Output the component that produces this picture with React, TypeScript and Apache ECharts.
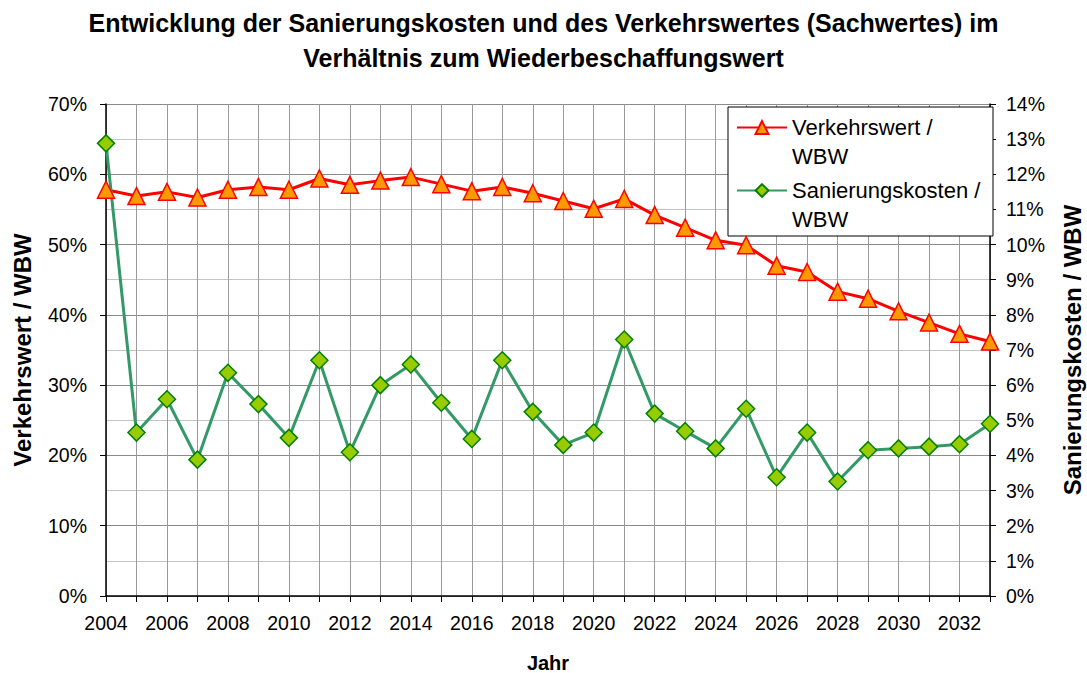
import React, { useEffect, useRef } from "react";
import * as echarts from "echarts";

const years = ["2004","2005","2006","2007","2008","2009","2010","2011","2012","2013","2014","2015","2016","2017","2018","2019","2020","2021","2022","2023","2024","2025","2026","2027","2028","2029","2030","2031","2032","2033"];
const verkehrswert = [57.8,56.9,57.5,56.7,57.8,58.2,57.8,59.4,58.5,59.1,59.6,58.6,57.6,58.2,57.3,56.2,55.1,56.5,54.2,52.4,50.6,49.9,47.0,46.1,43.3,42.3,40.5,38.9,37.3,36.2];
const sanierung = [12.88,4.65,5.6,3.88,6.35,5.46,4.5,6.71,4.09,6.0,6.59,5.5,4.47,6.71,5.24,4.3,4.65,7.3,5.19,4.69,4.2,5.33,3.38,4.65,3.26,4.15,4.2,4.25,4.32,4.9];
const leftTicks = { min: 0, max: 70, interval: 10 };
const rightTicks = { min: 0, max: 14, interval: 1 };
const names = { vw: "Verkehrswert /\nWBW", sk: "Sanierungskosten /\nWBW" };

const FONT = "'Liberation Sans', Arial, sans-serif";

export default function App() {
  const ref = useRef<HTMLDivElement>(null);
  useEffect(() => {
    document.body.style.margin = "0";
    const chart = echarts.init(ref.current!, null, { renderer: "svg" });
    chart.setOption({
      animation: false,
      backgroundColor: "#ffffff",
      textStyle: { fontFamily: FONT },
      title: {
        text: "Entwicklung der Sanierungskosten und des Verkehrswertes (Sachwertes) im\nVerhältnis zum Wiederbeschaffungswert",
        left: "center",
        top: 0,
        textStyle: { fontFamily: FONT, fontSize: 25, fontWeight: "bold", color: "#000", lineHeight: 35 },
      },
      graphic: [
        {
          type: "rect",
          z: 3,
          shape: { x: 728, y: 107, width: 265, height: 129 },
          style: { fill: "#fff", stroke: "#000", lineWidth: 1 },
        },
      ],
      legend: {
        orient: "vertical",
        left: 736,
        top: 84,
        z: 5,
        itemWidth: 50,
        itemHeight: 16,
        itemGap: -24,
        padding: 0,
        data: [names.vw, names.sk],
        formatter: (n: string) => "\n" + n,
        textStyle: { fontFamily: FONT, fontSize: 22, color: "#000", lineHeight: 29 },
      },
      grid: { left: 106, right: 97, top: 104, bottom: 77, outerBoundsMode: "none", containLabel: false },
      xAxis: {
        type: "category",
        data: years,
        boundaryGap: false,
        name: "Jahr",
        nameLocation: "middle",
        nameGap: 57,
        nameTextStyle: { fontFamily: FONT, fontSize: 20, fontWeight: "bold", color: "#000" },
        axisLine: { lineStyle: { color: "#000", width: 1.5 } },
        axisTick: { show: true, interval: 0, length: 6, lineStyle: { color: "#000" } },
        axisLabel: { interval: 1, fontSize: 19.5, color: "#000", margin: 17, fontFamily: FONT },
        splitLine: { show: true, interval: 0, lineStyle: { color: "#9a9a9a", width: 1 } },
      },
      yAxis: [
        {
          type: "value",
          ...leftTicks,
          name: "Verkehrswert / WBW",
          nameLocation: "middle",
          nameGap: 72,
          nameRotate: 90,
          nameTextStyle: { fontFamily: FONT, fontSize: 24, fontWeight: "bold", color: "#000" },
          axisLine: { show: true, lineStyle: { color: "#000", width: 1.5 } },
          axisTick: { show: true, length: 6, lineStyle: { color: "#000" } },
          axisLabel: { formatter: "{value}%", fontSize: 19.5, color: "#000", margin: 19, fontFamily: FONT },
          splitLine: { show: true, lineStyle: { color: "#8a8a8a", width: 1 } },
          minorTick: { show: false, splitNumber: 2 },
          minorSplitLine: { show: true, lineStyle: { color: "#c4c4c4", width: 1 } },
        },
        {
          type: "value",
          ...rightTicks,
          position: "right",
          name: "Sanierungskosten / WBW",
          nameLocation: "middle",
          nameGap: 70,
          nameRotate: 90,
          nameTextStyle: { fontFamily: FONT, fontSize: 24, fontWeight: "bold", color: "#000" },
          axisLine: { show: true, lineStyle: { color: "#000", width: 1.5 } },
          axisTick: { show: true, length: 6, lineStyle: { color: "#000" } },
          axisLabel: { formatter: "{value}%", fontSize: 19.5, color: "#000", margin: 16, fontFamily: FONT },
          splitLine: { show: false },
        },
      ],
      series: [
        {
          name: names.vw,
          type: "line",
          yAxisIndex: 0,
          data: verkehrswert,
          symbol: "triangle",
          symbolSize: 17,
          lineStyle: { color: "#ff0000", width: 3 },
          itemStyle: { color: "#ff9900", borderColor: "#ff0000", borderWidth: 1.5 },
          z: 3,
        },
        {
          name: names.sk,
          type: "line",
          yAxisIndex: 1,
          data: sanierung,
          symbol: "diamond",
          symbolSize: 17,
          lineStyle: { color: "#339966", width: 3 },
          itemStyle: { color: "#99cc00", borderColor: "#008000", borderWidth: 1.5 },
          z: 3,
        },
      ],
    });
    return () => chart.dispose();
  }, []);
  return <div ref={ref} style={{ position: "absolute", left: 0, top: 0, width: 1087, height: 673 }} />;
}
